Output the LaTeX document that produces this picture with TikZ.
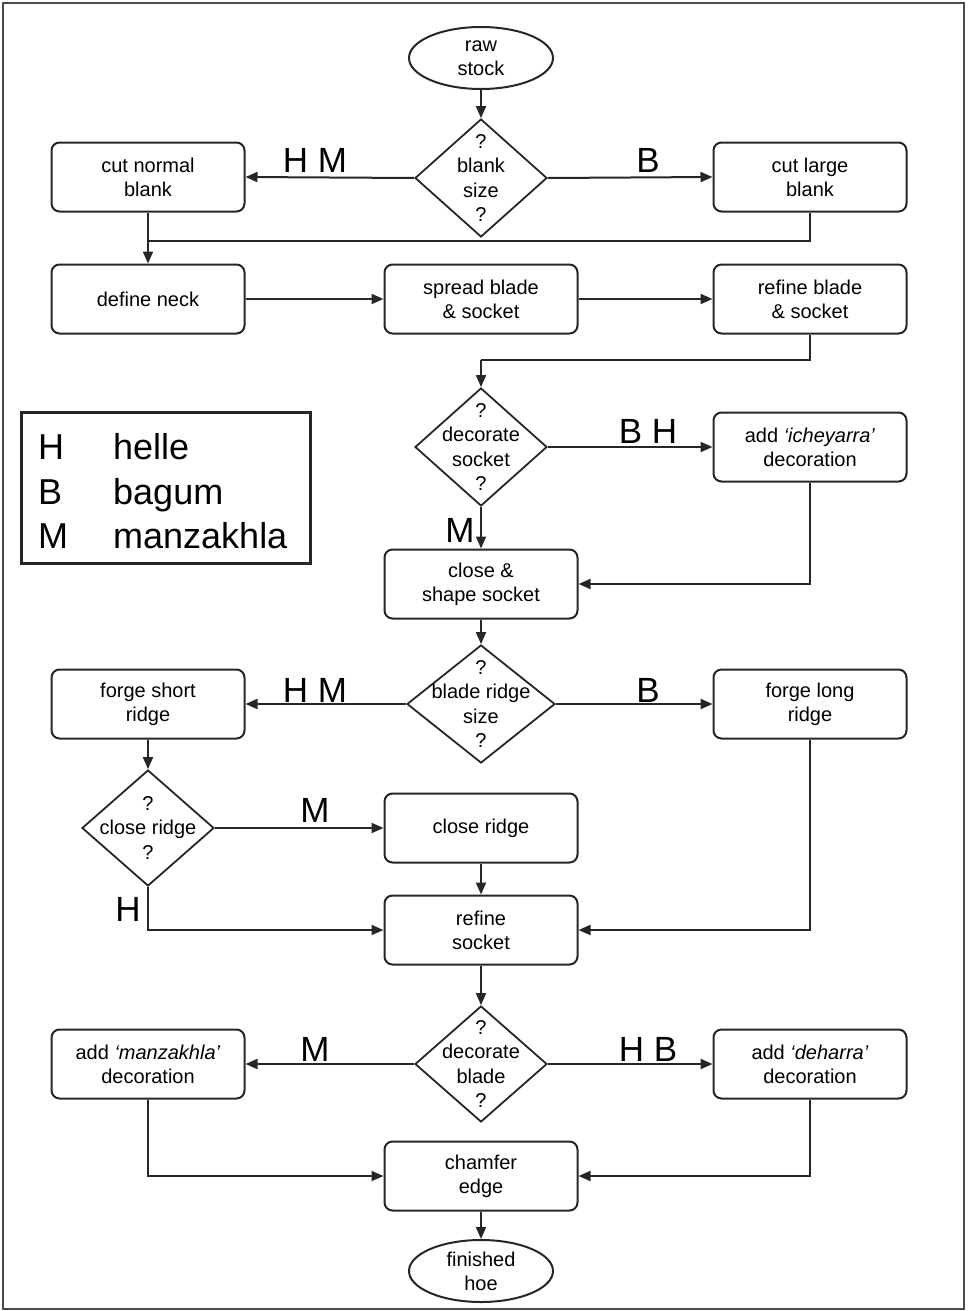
\documentclass[tikz,border=0pt]{standalone}
\usepackage{fontspec}
\setmainfont{Liberation Sans}
\usetikzlibrary{shapes.geometric,arrows.meta}
\begin{document}
\begin{tikzpicture}[x=1pt,y=-1pt,
 box/.style={draw=black!85, line width=2pt, rounded corners=8pt, minimum width=193pt, minimum height=69pt, align=center, font=\fontsize{20}{24}\selectfont, inner sep=0pt},
 dia/.style={draw=black!85, diamond, line width=1.8pt, inner sep=0pt, minimum width=132pt, minimum height=118pt},
 ell/.style={draw=black!85, ellipse, line width=2pt, minimum width=144pt, minimum height=62pt, align=center, font=\fontsize{20}{24}\selectfont, inner sep=0pt},
 txt/.style={align=center, font=\fontsize{20}{24.5}\selectfont, inner sep=0pt},
 lbl/.style={font=\fontsize{35}{40}\selectfont, inner sep=0pt, anchor=base},
 leg/.style={font=\fontsize{36}{40}\selectfont, inner sep=0pt, anchor=base west},
 arr/.style={draw=black!85, line width=2pt, -{Triangle[length=12pt,width=10pt]}},
 ln/.style={draw=black!85, line width=2pt}]
\useasboundingbox (0,0) rectangle (967,1311);
\draw[black!70, line width=2pt] (3,3) rectangle (964,1309);

% nodes
\node[ell] (raw) at (481,58) {raw\\stock};
\node[dia] (d1) at (481,178) {};
\node[txt] (d1t) at (481,178) {?\\blank\\size\\?};
\node[box] (cutn) at (148,177) {cut normal\\blank};
\node[box] (cutl) at (810,177) {cut large\\blank};
\node[box] (neck) at (148,299) {define neck};
\node[box] (spread) at (481,299) {spread blade\\\& socket};
\node[box] (refine) at (810,299) {refine blade\\\& socket};
\node[dia] (d2) at (481,447) {};
\node[txt] (d2t) at (481,447) {?\\decorate\\socket\\?};
\node[box] (ich) at (810,447) {add \textit{`icheyarra'}\\decoration};
\node[box] (close) at (481,584) {close \&\\shape socket};
\node[dia, minimum width=148pt] (d3) at (481,704) {};
\node[txt] (d3t) at (481,704) {?\\blade ridge\\size\\?};
\node[box] (short) at (148,704) {forge short\\ridge};
\node[box] (long) at (810,704) {forge long\\ridge};
\node[dia, minimum height=116pt] (d4) at (148,828) {};
\node[txt] (d4t) at (148,828) {?\\close ridge\\?};
\node[box] (cridge) at (481,828) {close ridge};
\node[box] (rsock) at (481,930) {refine\\socket};
\node[dia, minimum height=116pt] (d5) at (481,1064) {};
\node[txt] (d5t) at (481,1064) {?\\decorate\\blade\\?};
\node[box] (manz) at (148,1064) {add \textit{`manzakhla'}\\decoration};
\node[box] (deh) at (810,1064) {add \textit{`deharra'}\\decoration};
\node[box] (chamf) at (481,1176) {chamfer\\edge};
\node[ell] (hoe) at (481,1271) {finished\\hoe};

% legend
\draw[black!85, line width=3pt] (21,412) rectangle (310,563);
\node[leg] (lh) at (38,459) {H};
\node[leg] (lhw) at (113,459) {helle};
\node[leg] (lb) at (38,504) {B};
\node[leg] (lbw) at (113,504) {bagum};
\node[leg] (lm) at (38,548) {M};
\node[leg] (lmw) at (113,548) {manzakhla};

% coordinates
\coordinate (j1) at (148,241);
\coordinate (j2) at (481,360);

% connectors
\draw[arr] (raw) -- (d1);
\draw[arr] (d1.west) -- (cutn.east);
\draw[arr] (d1.east) -- (cutl.west);
\draw[arr] (cutn) -- (neck);
\draw[ln] (cutl.south) |- (j1);
\draw[arr] (neck) -- (spread);
\draw[arr] (spread) -- (refine);
\draw[ln] (refine.south) |- (j2);
\draw[arr] (j2) -- (d2.north);
\draw[arr] (d2.east) -- (ich.west);
\draw[arr] (d2.south) -- (close.north);
\draw[arr] (ich.south) |- (close.east);
\draw[arr] (close) -- (d3.north);
\draw[arr] (d3.west) -- (short.east);
\draw[arr] (d3.east) -- (long.west);
\draw[arr] (short) -- (d4.north);
\draw[arr] (d4.east) -- (cridge.west);
\draw[arr] (cridge) -- (rsock);
\draw[arr] (d4.south) |- (rsock.west);
\draw[arr] (long.south) |- (rsock.east);
\draw[arr] (rsock) -- (d5.north);
\draw[arr] (d5.west) -- (manz.east);
\draw[arr] (d5.east) -- (deh.west);
\draw[arr] (manz.south) |- (chamf.west);
\draw[arr] (deh.south) |- (chamf.east);
\draw[arr] (chamf) -- (hoe);

% edge labels
\node[lbl] (l1) at (315,172) {H M};
\node[lbl] (l2) at (648,172) {B};
\node[lbl] (l3) at (648,443) {B H};
\node[lbl] (l4) at (460,542) {M};
\node[lbl] (l5) at (315,702) {H M};
\node[lbl] (l6) at (648,702) {B};
\node[lbl] (l7) at (315,822) {M};
\node[lbl] (l8) at (128,921) {H};
\node[lbl] (l9) at (315,1061) {M};
\node[lbl] (l10) at (648,1061) {H B};
\end{tikzpicture}
\end{document}
